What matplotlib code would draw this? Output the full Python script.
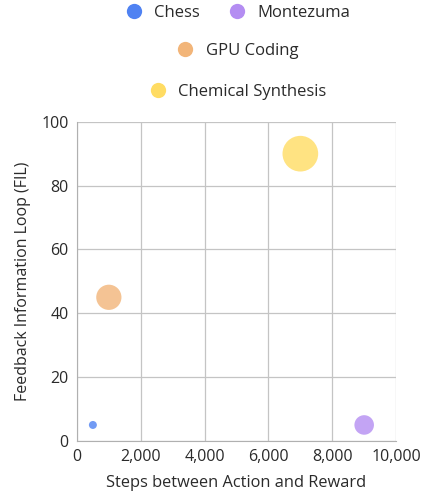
import matplotlib
matplotlib.use("Agg")
import matplotlib.pyplot as plt
from matplotlib.lines import Line2D
from matplotlib.ticker import FuncFormatter

plt.rcParams["font.family"] = ["Open Sans", "DejaVu Sans"]

# data
names = ["Chess", "Montezuma", "GPU Coding", "Chemical Synthesis"]
steps = [500, 9000, 1000, 7000]
fil = [5, 5, 45, 90]
bubble = [1, 6, 10, 20]
colors = ["#4f82f2", "#b48df2", "#f2b579", "#ffdc63"]
legend_rows = [["Chess", "Montezuma"], ["GPU Coding"], ["Chemical Synthesis"]]

fig = plt.figure(figsize=(4.25, 4.91), dpi=100)
ax = fig.add_axes([0.181, 0.102, 0.751, 0.650])

ax.scatter(steps, fil, s=[b * 33 for b in bubble], c=colors, alpha=0.8,
           linewidths=0, zorder=3)

ax.set_xlim(0, 10000)
ax.set_ylim(0, 100)
ax.set_xticks(range(0, 10001, 2000))
ax.set_yticks(range(0, 101, 20))
ax.xaxis.set_major_formatter(FuncFormatter(lambda v, p: f"{int(v):,}"))
ax.grid(True, color="#c4c4c4", linewidth=0.9, zorder=0)
for side in ["top", "right"]:
    ax.spines[side].set_visible(False)
for side in ["left", "bottom"]:
    ax.spines[side].set_color("#b0b0b0")
ax.tick_params(length=0, labelsize=11.5, colors="#2a2a2a", pad=6)
ax.set_xlabel("Steps between Action and Reward", fontsize=11.8, color="#2a2a2a", labelpad=7)
ax.set_ylabel("Feedback Information Loop (FIL)", fontsize=11.5, color="#2a2a2a", labelpad=7)

# legend: three centred rows
row_y = [0.974, 0.896, 0.813]
for row, y in zip(legend_rows, row_y):
    handles = [Line2D([], [], marker="o", linestyle="", markersize=11,
                      markerfacecolor=colors[names.index(n)], markeredgewidth=0)
               for n in row]
    fig.legend(handles, row, loc="center", bbox_to_anchor=(0.55, y), ncol=len(row),
               frameon=False, fontsize=12, handletextpad=0.25, columnspacing=1.2,
               labelcolor="#2a2a2a")

fig.savefig("out.png", dpi=100)
